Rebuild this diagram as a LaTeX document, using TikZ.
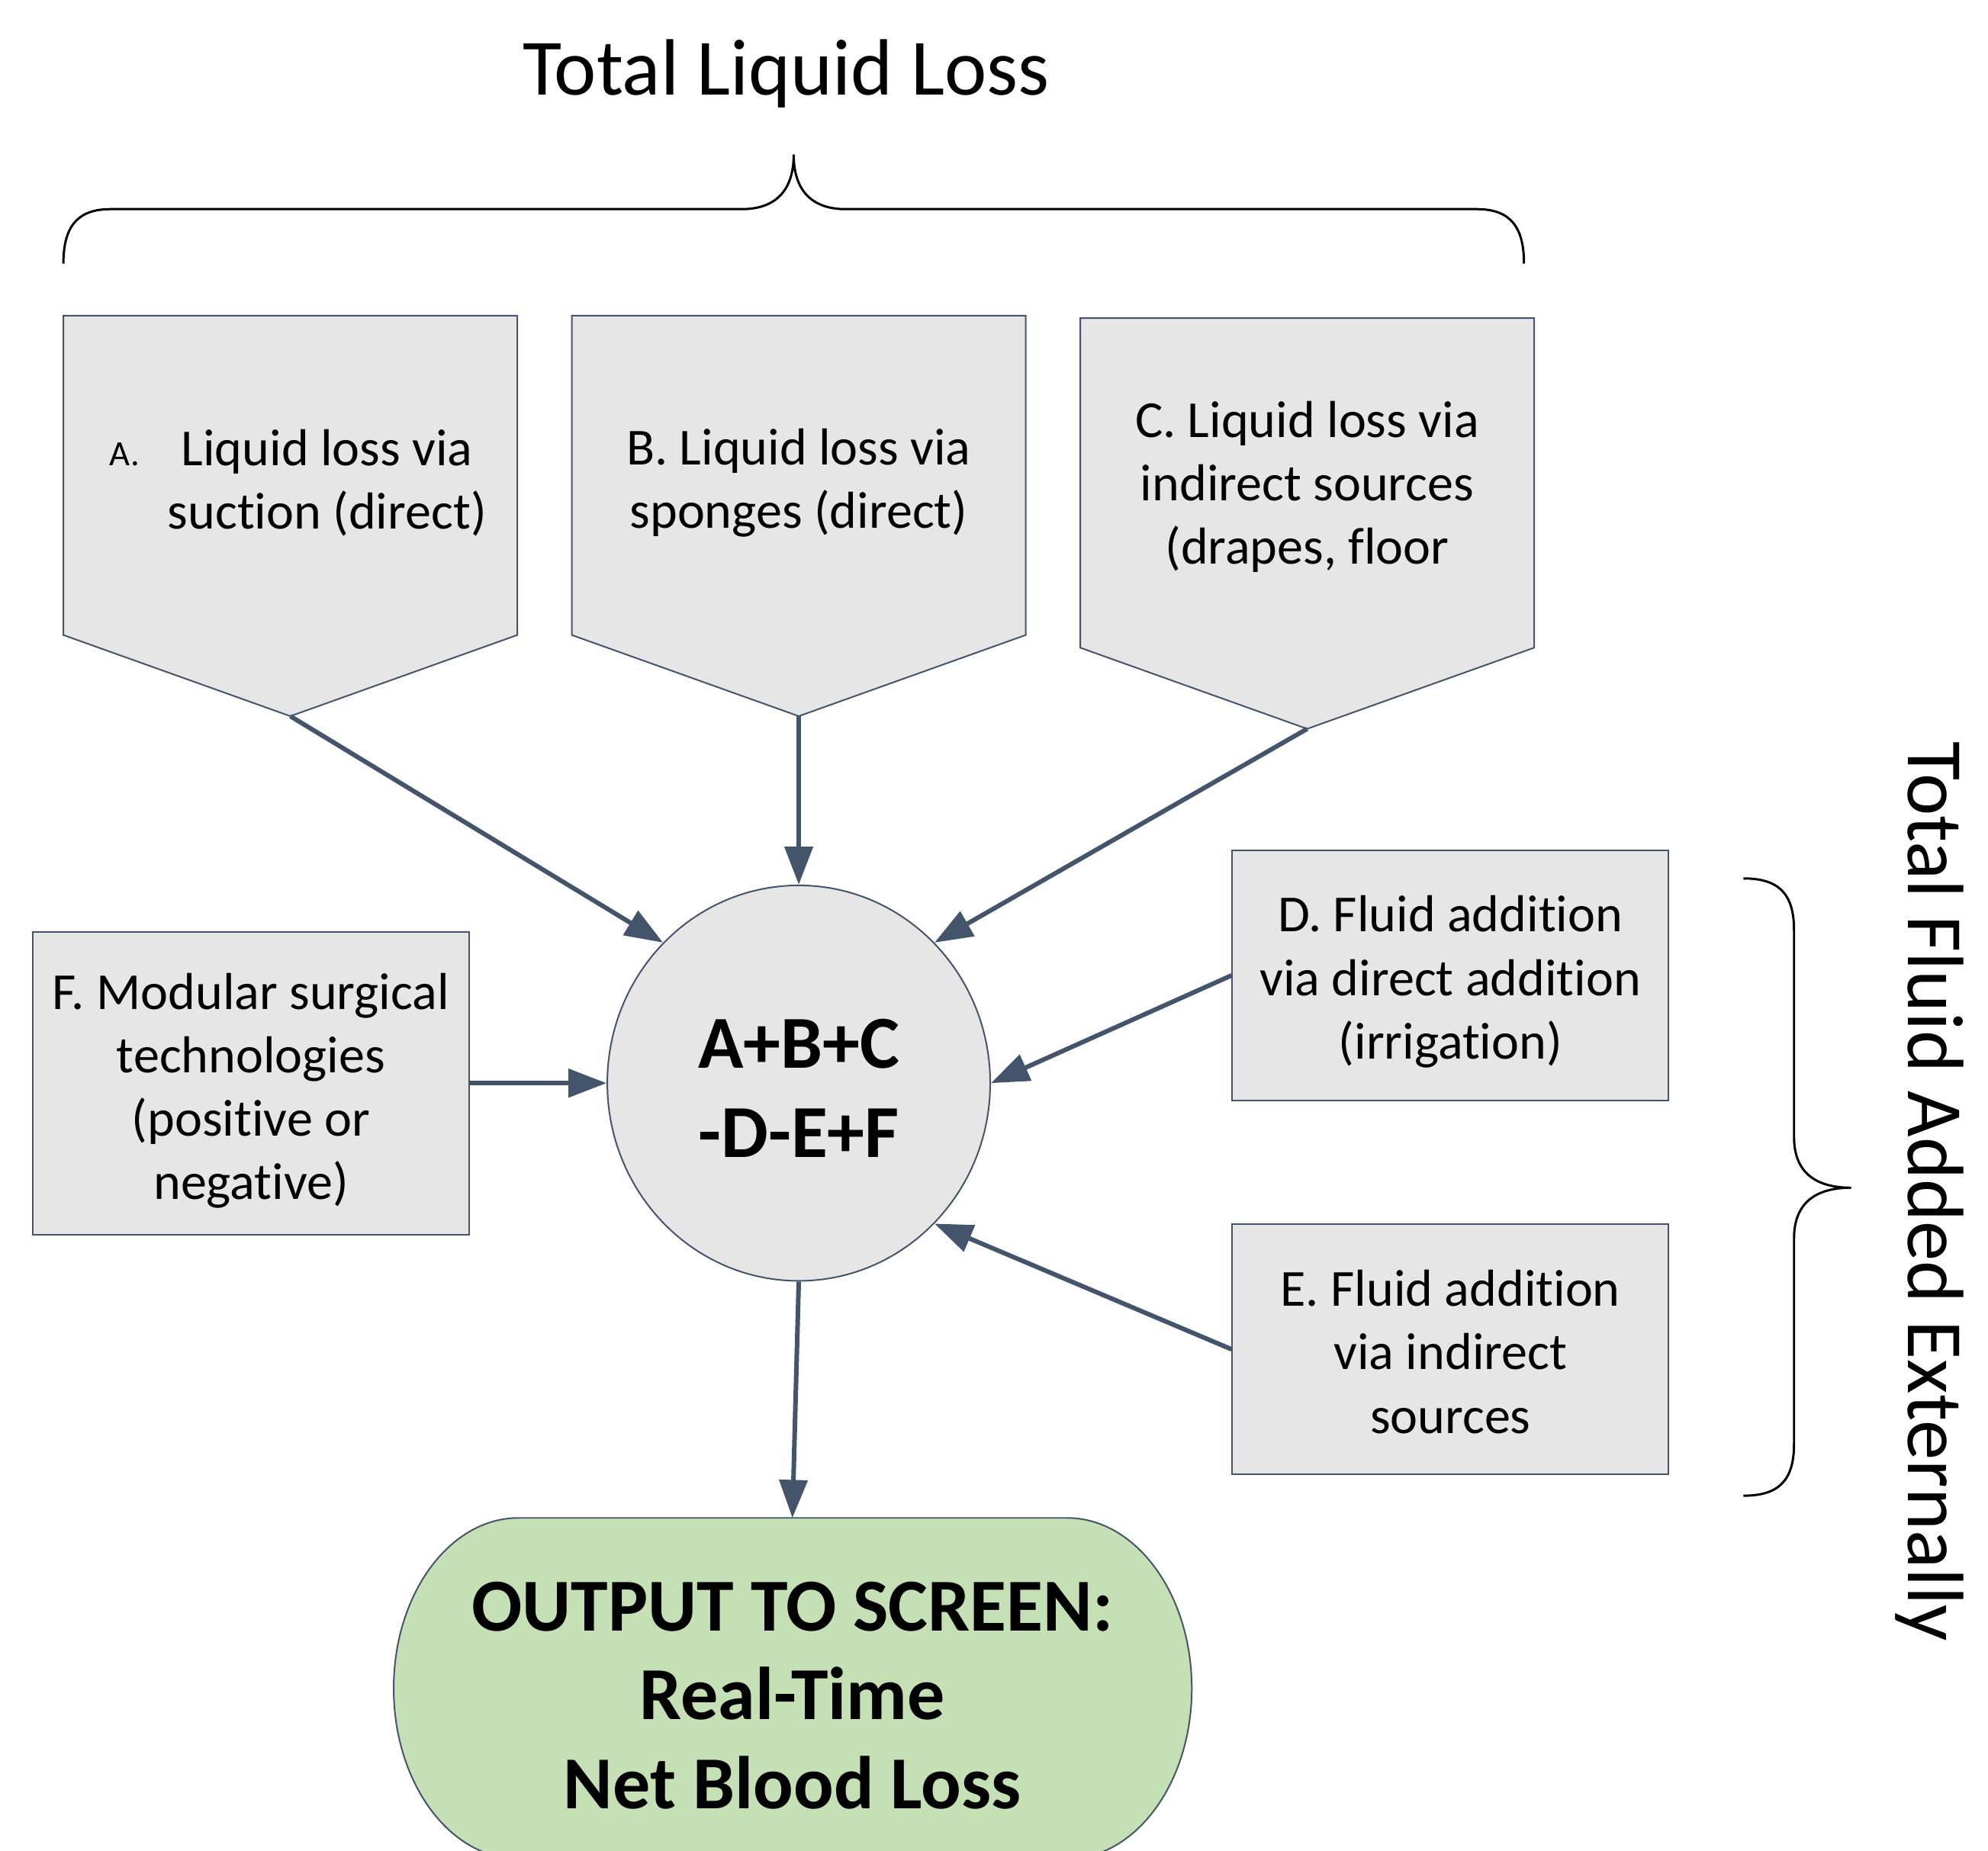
\documentclass[tikz,border=0pt]{standalone}
\usepackage{fontspec}
\setmainfont{Carlito}[Ligatures=NoCommon]
\usetikzlibrary{arrows.meta,shapes.geometric}

\definecolor{slate}{HTML}{44546A}
\definecolor{boxfill}{HTML}{E7E6E6}
\definecolor{outfill}{HTML}{C5E0B4}

\tikzset{
  srcshape/.style={draw=slate, line width=0.6pt, fill=boxfill},
  srcbox/.style={srcshape, rectangle, inner sep=0pt, minimum width=172pt},
  srctext/.style={align=center, inner sep=0pt, font=\fontsize{20.5}{25}\selectfont},
  flow/.style={draw=slate, line width=1.8pt, -{Triangle[length=15pt,width=11pt]}},
  brace/.style={draw=black, line width=0.9pt},
  heading/.style={inner sep=0pt, font=\fontsize{31.5}{38}\selectfont},
  boldtext/.style={align=center, inner sep=0pt, font=\fontsize{29.5}{35}\selectfont\bfseries},
}

\begin{document}
\begin{tikzpicture}[x=0.5pt,y=-0.5pt]
  \useasboundingbox (0,0) rectangle (1568,1460);

  % headings
  \node[heading, anchor=base] (lossTitle) at (620,75) {Total Liquid Loss};
  \node[heading, anchor=base, rotate=-90] (addTitle) at (1505,940) {Total Fluid Added Externally};

  % braces
  \draw[brace] (50,208) .. controls (50,180) and (60,165) .. (87,165)
    -- (585,165) .. controls (612,165) and (626,150) .. (626,122)
    .. controls (626,150) and (640,165) .. (667,165)
    -- (1165,165) .. controls (1192,165) and (1202,180) .. (1202,208);
  \draw[brace] (1375,693) .. controls (1403,693) and (1415,705) .. (1415,734)
    -- (1415,897) .. controls (1415,925) and (1432,937) .. (1460,937)
    .. controls (1432,937) and (1415,949) .. (1415,977)
    -- (1415,1139) .. controls (1415,1168) and (1403,1180) .. (1375,1180);

  % loss sources (pentagons)
  \draw[srcshape] (50,249) -- (408,249) -- (408,501) -- (229,565) -- (50,501) -- cycle;
  \coordinate (Atip) at (229,565);
  \node[srctext] (Atext) at (258,381)
    {\llap{\fontsize{14}{16}\selectfont A.\hspace{16.5pt}}Liquid loss via\\suction (direct)};

  \draw[srcshape] (451,249) -- (809,249) -- (809,501) -- (630,565) -- (451,501) -- cycle;
  \coordinate (Btip) at (630,565);
  \node[srctext] (Btext) at (630,381) {B. Liquid loss via\\sponges (direct)};

  \draw[srcshape] (852,251) -- (1210,251) -- (1210,511) -- (1031,575) -- (852,511) -- cycle;
  \coordinate (Ctip) at (1031,575);
  \node[srctext] (Ctext) at (1031,384) {C. Liquid loss via\\indirect sources\\(drapes, floor};

  % other inputs
  \node[srcbox, minimum height=119.5pt] (F) at (198,854.5) {};
  \node[srctext] (Ftext) at (198,860.5)
    {F. Modular surgical\\technologies\\(positive or\\negative)};
  \node[srcbox, minimum height=98.5pt] (D) at (1144,769.5) {};
  \node[srctext] (Dtext) at (1144,774.5)
    {D. Fluid addition\\via direct addition\\(irrigation)};
  \node[srcbox, minimum height=98.5pt] (E) at (1144,1064.5) {};
  \node[srctext] (Etext) at (1144,1066.5)
    {E. Fluid addition\\via indirect\\sources};

  % central formula
  \node[srcshape, ellipse, inner sep=0pt, minimum width=151pt, minimum height=156pt] (circ) at (630,854.5) {};
  \node[boldtext] (circText) at (630,858.5) {A+B+C\\-D-E+F};

  % output terminator
  \draw[draw=slate, line width=0.6pt, fill=outfill]
    (409,1197.5) -- (841.5,1197.5)
    arc[start angle=-90, end angle=90, x radius=98.5, y radius=134.5]
    -- (409,1466.5)
    arc[start angle=90, end angle=270, x radius=98.5, y radius=134.5]
    -- cycle;
  \coordinate (outTop) at (625,1197.5);
  \node[boldtext] (outText) at (625,1337.5) {OUTPUT TO SCREEN:\\Real-Time\\Net Blood Loss};

  % connectors
  \draw[flow] (Atip) -- (circ.134);
  \draw[flow] (Btip) -- (circ.90);
  \draw[flow] (Ctip) -- (circ.46);
  \draw[flow] (D.west) -- (circ.0);
  \draw[flow] (E.west) -- (circ.-46);
  \draw[flow] (F.east) -- (circ.180);
  \draw[flow] (circ.south) -- (outTop);
\end{tikzpicture}
\end{document}
